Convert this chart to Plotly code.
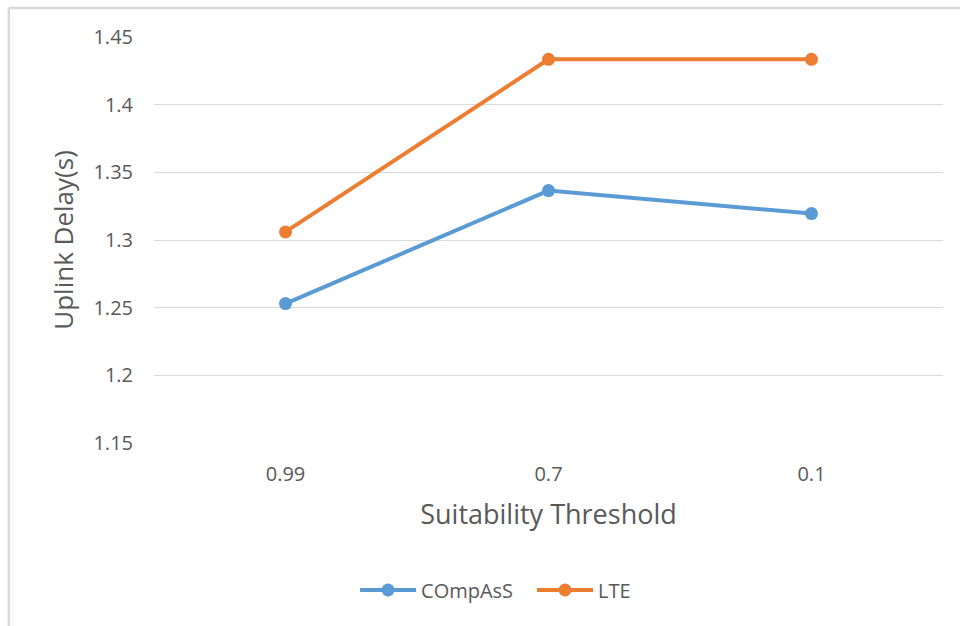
import plotly.graph_objects as go

categories = ["0.99", "0.7", "0.1"]
compass = [1.253, 1.3365, 1.3195]
lte = [1.306, 1.4335, 1.4335]
y_ticks = [1.15, 1.2, 1.25, 1.3, 1.35, 1.4, 1.45]
y_tick_labels = ["1.15", "1.2", "1.25", "1.3", "1.35", "1.4", "1.45"]

FONT = "Open Sans"
TXT = "#595959"

fig = go.Figure()
fig.add_trace(go.Scatter(x=categories, y=compass, name="COmpAsS", mode="lines+markers",
                         line=dict(color="#5B9BD5", width=4), marker=dict(size=13, color="#5B9BD5")))
fig.add_trace(go.Scatter(x=categories, y=lte, name="LTE", mode="lines+markers",
                         line=dict(color="#ED7D31", width=4), marker=dict(size=13, color="#ED7D31")))

fig.update_layout(
    width=960, height=626,
    margin=dict(l=154, r=17, t=37, b=183, autoexpand=False),
    paper_bgcolor="white", plot_bgcolor="white",
    font=dict(family=FONT, color=TXT, size=20),
    showlegend=True,
    legend=dict(orientation="h", x=0.2548, xanchor="left", y=-0.362, yanchor="middle",
                font=dict(size=20, color=TXT), itemwidth=56,
                entrywidth=106, entrywidthmode="pixels"),
    xaxis=dict(type="category", range=[-0.5, 2.5], showgrid=False, showline=False, zeroline=False,
               ticks="", ticklabelstandoff=17, tickfont=dict(size=20),
               title=dict(text="Suitability Threshold", font=dict(size=27, color=TXT), standoff=19)),
    yaxis=dict(range=[1.15, 1.45], tickvals=y_ticks, ticktext=y_tick_labels,
               showgrid=True, gridcolor="#D9D9D9", gridwidth=1.3, zeroline=False, showline=False,
               ticks="", ticklabelstandoff=20, tickfont=dict(size=20),
               title=dict(text="Uplink Delay(s)", font=dict(size=26, color=TXT), standoff=12)),
    shapes=[
        dict(type="line", xref="paper", yref="paper", x0=-0.184, x1=1.1, y0=1.0714, y1=1.0714,
             line=dict(color="#D9D9D9", width=2.5)),
        dict(type="line", xref="paper", yref="paper", x0=-0.184, x1=-0.184, y0=1.072, y1=-0.5,
             line=dict(color="#D9D9D9", width=2.5)),
    ],
)
fig.write_html("out.html", config={"displayModeBar": False},
               post_script="document.body.style.margin='0px';")
